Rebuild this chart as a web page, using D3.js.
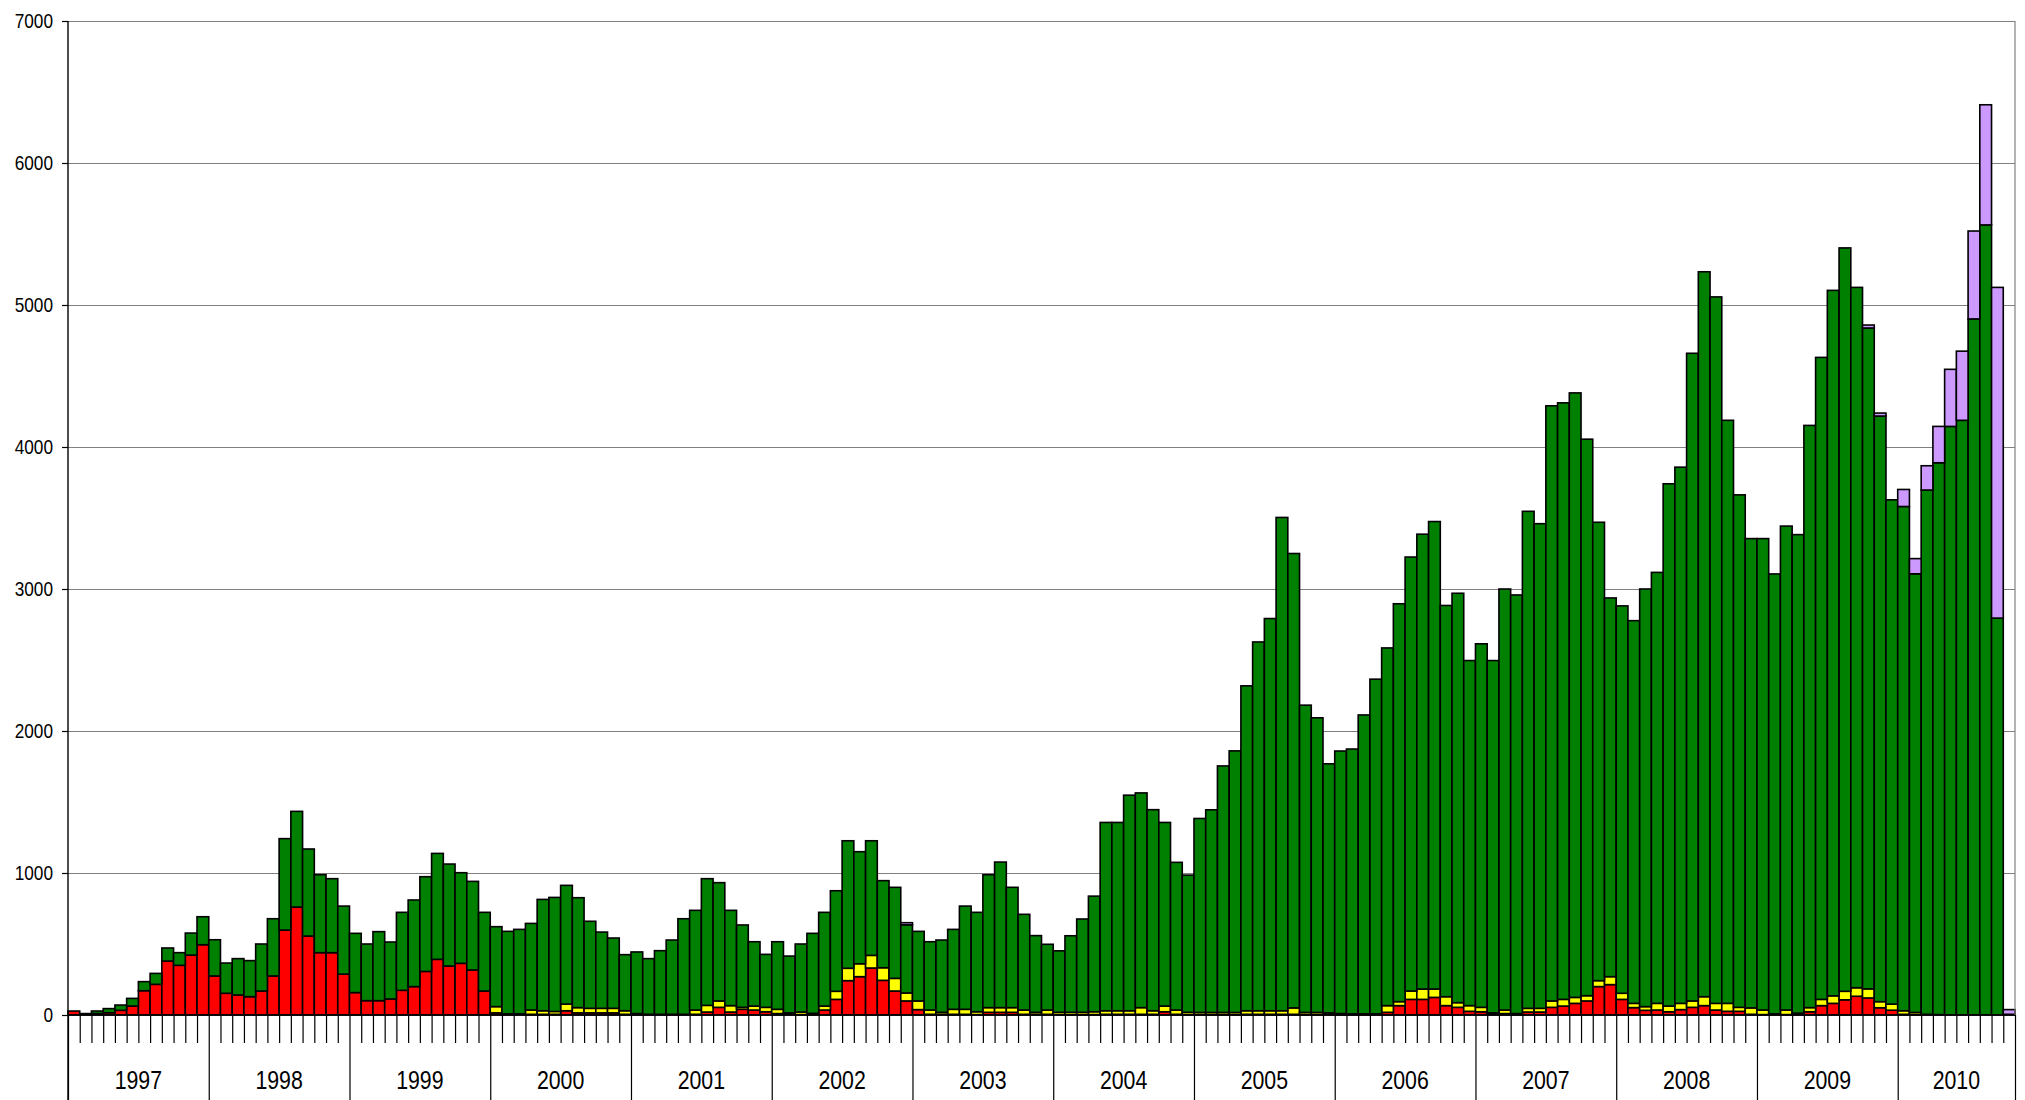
<!DOCTYPE html>
<html>
<head>
<meta charset="utf-8">
<script src="https://cdn.jsdelivr.net/npm/d3@7"></script>
<style>
  html, body { margin: 0; padding: 0; background: #ffffff; }
  svg text { font-family: "Liberation Sans Narrow", "Arial Narrow", "Liberation Sans", Arial, sans-serif; fill: #000; }
</style>
</head>
<body>
<svg class="chart"></svg>
<script>
// monthly counts, Jan 1997 .. Oct 2010 (stack order: red, yellow, green, purple)
var years = ["1997","1998","1999","2000","2001","2002","2003","2004","2005","2006","2007","2008","2009","2010"];
var monthsInYear = [12,12,12,12,12,12,12,12,12,12,12,12,12,10];
var yTicks = [0,1000,2000,3000,4000,5000,6000,7000];

var red = [
  28,0,10,16,33,63,171,216,380,350,422,495,
  275,153,141,129,169,275,598,760,556,439,439,288,
  158,101,101,113,174,200,307,392,345,364,317,169,
  15,3,0,5,5,5,30,15,15,15,15,5,
  3,0,0,0,0,5,21,54,21,40,35,23,
  10,5,3,3,35,110,242,270,331,244,169,99,
  38,5,5,5,5,3,19,19,19,5,5,5,
  3,3,3,3,5,5,5,5,5,23,5,3,
  3,3,3,3,5,5,5,5,5,3,3,3,
  3,3,3,3,19,66,110,110,124,66,54,26,
  23,5,10,3,21,21,54,63,82,99,200,214,
  110,52,33,35,23,38,54,66,35,26,26,5,
  3,3,3,3,23,66,82,107,132,120,51,34,
  5,3,0,0,0,0,0,0,0,0
];
var yellow = [
  0,0,0,0,0,0,0,0,0,0,0,0,
  0,0,0,0,0,0,0,0,0,0,0,0,
  0,0,0,0,0,0,0,0,0,0,0,0,
  44,5,8,30,25,20,47,37,32,32,32,25,
  7,5,5,5,5,30,47,45,45,14,28,31,
  30,10,18,9,28,57,87,91,89,89,89,56,
  61,30,14,35,35,20,33,33,33,30,14,30,
  16,16,16,20,25,25,25,47,25,40,30,16,
  15,15,15,15,25,25,25,25,45,15,15,12,
  7,5,5,5,47,28,59,73,59,63,33,40,
  31,10,25,7,26,26,45,47,42,37,42,56,
  43,30,26,47,40,44,45,63,47,56,28,45,
  32,5,32,10,29,44,53,60,60,64,43,43,
  25,15,5,3,0,0,0,0,0,0
];
var green = [
  0,10,18,29,37,54,64,77,92,89,155,197,
  255,213,256,254,331,403,644,674,613,549,521,479,
  417,399,486,401,549,610,667,746,718,638,624,554,
  563,581,595,610,784,803,836,774,613,537,495,395,
  434,392,448,523,673,702,892,833,671,580,453,373,
  476,400,479,563,660,708,898,789,807,613,641,480,
  490,481,509,563,727,700,936,1025,847,674,540,463,
  433,539,657,814,1326,1326,1518,1512,1416,1293,1040,966,
  1366,1427,1736,1842,2288,2597,2762,3474,3200,2164,2075,1754,
  1849,1865,2105,2357,2519,2802,3056,3203,3292,2755,2883,2430,
  2560,2481,2965,2948,3500,3413,4191,4201,4257,3919,3228,2667,
  2728,2695,2941,3035,3678,3776,4561,5105,4975,4106,3609,3305,
  3320,3098,3408,3370,4100,4521,4968,5235,4932,4654,4124,3551,
  3551,3089,3692,3886,4145,4188,4902,5564,2795,5
];
var purple = [
  0,0,0,0,0,0,0,0,0,0,0,0,
  0,0,0,0,0,0,0,0,0,0,0,0,
  0,0,0,0,0,0,0,0,0,0,0,0,
  0,0,0,0,0,0,0,0,0,0,0,0,
  0,0,0,0,0,0,0,0,0,0,0,0,
  0,0,0,0,0,0,0,0,0,0,0,15,
  0,0,0,0,0,0,0,0,0,0,0,0,
  0,0,0,0,0,0,0,0,0,0,0,0,
  0,0,0,0,0,0,0,0,0,0,0,0,
  0,0,0,0,0,0,0,0,0,0,0,0,
  0,0,0,0,0,0,0,0,0,0,0,0,
  0,0,0,0,0,0,0,0,0,0,0,0,
  0,0,0,0,0,0,0,0,0,21,21,0,
  120,107,171,256,402,487,619,846,2329,33
];

var seriesKeys = ["red", "yellow", "green", "purple"];
var seriesColors = { red: "#ff0000", yellow: "#ffff00", green: "#008000", purple: "#cc99ff" };

function drawChart() {
  var width = 2025;
  var height = 1100;
  // plot frame (note: don't call this "top", window.top is read-only)
  var plotLeft = 68, plotRight = 2015, plotTop = 21, plotBottom = 1015;
  var narrow = 0.82; // fake "Arial Narrow" width

  var nMonths = red.length;
  var table = d3.range(nMonths).map(function (i) {
    return { i: i, red: red[i], yellow: yellow[i], green: green[i], purple: purple[i] };
  });

  var svg = d3.select(".chart")
    .attr("width", width)
    .attr("height", height)
    .style("display", "block");

  var x = d3.scaleBand()
    .domain(d3.range(nMonths))
    .range([plotLeft, plotRight])
    .padding(0);

  // month boundaries for ticks and year separators
  var xEdge = d3.scaleLinear().domain([0, nMonths]).range([plotLeft, plotRight]);

  var y = d3.scaleLinear().domain([0, 7000]).range([plotBottom, plotTop]);

  // gridlines
  svg.append("g")
    .attr("class", "grid")
    .attr("transform", "translate(" + plotLeft + ",0)")
    .call(d3.axisLeft(y).tickValues(yTicks.slice(1)).tickSize(-(plotRight - plotLeft)).tickFormat(""))
    .call(function (g) { g.select(".domain").remove(); })
    .selectAll("line")
    .attr("stroke", "#808080")
    .attr("stroke-width", 1.2);

  // y axis labels + small outward ticks
  var yAxis = svg.append("g")
    .attr("transform", "translate(" + plotLeft + ",0)")
    .call(d3.axisLeft(y).tickValues(yTicks).tickSize(6).tickPadding(9).tickFormat(d3.format("d")));
  yAxis.select(".domain").remove();
  yAxis.selectAll("line").attr("stroke", "#000").attr("stroke-width", 1.2);
  yAxis.selectAll("text")
    .attr("x", -15 / narrow)
    .attr("transform", "scale(" + narrow + ",1)")
    .style("font-size", "21px")
    .attr("fill", "#000");

  // stacked bars
  var layers = d3.stack().keys(seriesKeys)(table);

  svg.append("g")
    .selectAll("g")
    .data(layers)
    .enter()
    .append("g")
    .attr("fill", function (d) { return seriesColors[d.key]; })
    .selectAll("rect")
    .data(function (d) { return d.filter(function (p) { return p[1] - p[0] > 0; }); })
    .enter()
    .append("rect")
    .attr("x", function (d) { return x(d.data.i); })
    .attr("width", x.bandwidth())
    .attr("y", function (d) { return y(d[1]); })
    .attr("height", function (d) { return y(d[0]) - y(d[1]); })
    .attr("stroke", "#000")
    .attr("stroke-width", 1.6);

  // year boundaries
  var yearEdges = [0];
  monthsInYear.forEach(function (m, k) { yearEdges.push(yearEdges[k] + m); });

  // month ticks below the axis
  var monthTicks = d3.range(1, nMonths).filter(function (i) {
    return yearEdges.indexOf(i) < 0;
  });
  var xAxis = svg.append("g")
    .attr("transform", "translate(0," + plotBottom + ")")
    .call(d3.axisBottom(xEdge).tickValues(monthTicks).tickSize(28).tickFormat(""));
  xAxis.select(".domain").remove();
  xAxis.selectAll("line").attr("stroke", "#000").attr("stroke-width", 1.2);

  // year separators, from the axis down to the bottom edge
  var sep = svg.append("g")
    .attr("transform", "translate(0," + plotBottom + ")")
    .call(d3.axisBottom(xEdge).tickValues(yearEdges).tickSize(height - plotBottom).tickFormat(""));
  sep.select(".domain").remove();
  sep.selectAll("line").attr("stroke", "#000").attr("stroke-width", 1.2);

  // year labels
  svg.append("g")
    .selectAll("text")
    .data(years)
    .enter()
    .append("text")
    .attr("transform", function (d, k) {
      var cx = xEdge((yearEdges[k] + yearEdges[k + 1]) / 2);
      return "translate(" + cx + ",1089) scale(" + narrow + ",1)";
    })
    .attr("text-anchor", "middle")
    .style("font-size", "26px")
    .text(function (d) { return d; });

  // category axis line, value axis line, right frame
  svg.append("line")
    .attr("x1", plotLeft).attr("x2", plotRight)
    .attr("y1", plotBottom).attr("y2", plotBottom)
    .attr("stroke", "#000").attr("stroke-width", 1.4);
  svg.append("line")
    .attr("x1", plotLeft).attr("x2", plotLeft)
    .attr("y1", plotTop).attr("y2", height)
    .attr("stroke", "#000").attr("stroke-width", 1.4);
  svg.append("line")
    .attr("x1", plotRight).attr("x2", plotRight)
    .attr("y1", plotTop).attr("y2", plotBottom)
    .attr("stroke", "#808080").attr("stroke-width", 1.2);
}

drawChart();
</script>
</body>
</html>
